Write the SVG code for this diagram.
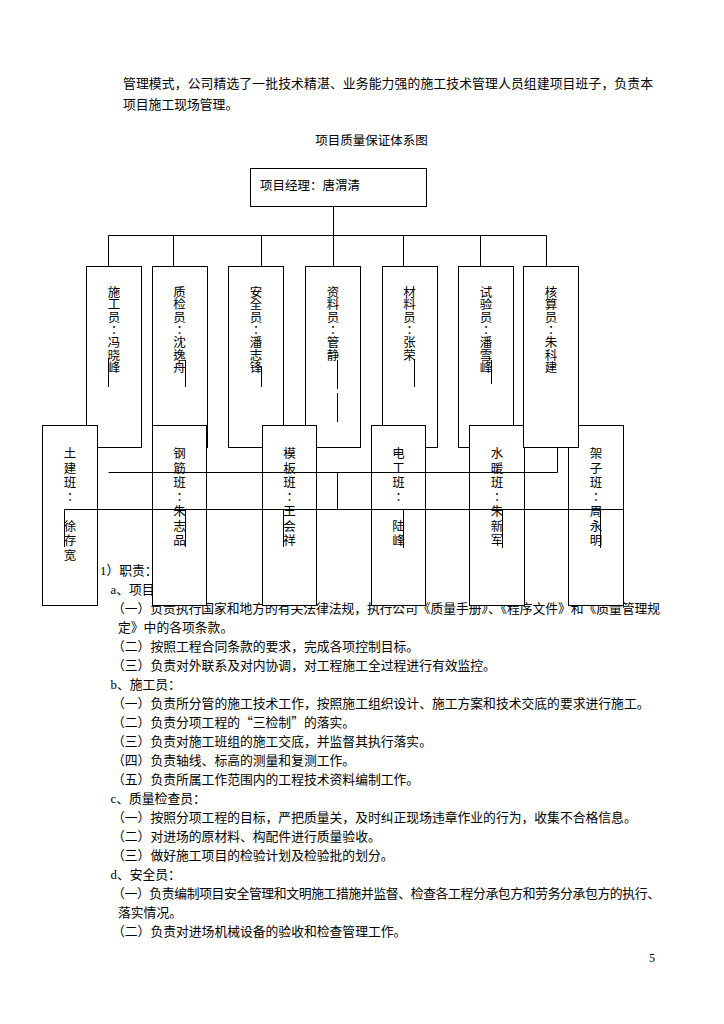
<svg xmlns="http://www.w3.org/2000/svg" width="724" height="1024" viewBox="0 0 724 1024">
<style>
.bg{fill:#fff}
.box{fill:#fff;stroke:#000;stroke-width:1}
.ln{stroke:#000;stroke-width:1;fill:none}
.t{font-family:"Noto Sans CJK SC",sans-serif;font-size:12.8px;fill:#000}
.lb{font-family:"Noto Sans CJK SC",sans-serif;font-size:12.5px;fill:#000}
.v{font-family:"Noto Sans CJK TC","Noto Sans CJK SC",sans-serif;font-size:12.5px;fill:#000;text-anchor:middle}
.s{font-family:"Liberation Serif",serif}
</style>
<rect class="bg" x="0" y="0" width="724" height="1024"/>

<g id="body-text">
<text class="t" x="123" y="88" textLength="530" lengthAdjust="spacing">管理模式，公司精选了一批技术精湛、业务能力强的施工技术管理人员组建项目班子，负责本</text>
<text class="t" x="123" y="109">项目施工现场管理。</text>
<text class="lb" x="371.5" y="144.7" text-anchor="middle">项目质量保证体系图</text>
<text class="t" x="100" y="574.9"><tspan class="s">1</tspan>）职责：</text>
<text class="t" x="110.5" y="593.9"><tspan class="s">a</tspan>、项目</text>
<text class="t" x="112" y="612.9" textLength="548" lengthAdjust="spacing">（一）负责执行国家和地方的有关法律法规，执行公司《质量手册》、《程序文件》和《质量管理规</text>
<text class="t" x="118" y="631.9">定》中的各项条款。</text>
<text class="t" x="112" y="650.9">（二）按照工程合同条款的要求，完成各项控制目标。</text>
<text class="t" x="112" y="669.9">（三）负责对外联系及对内协调，对工程施工全过程进行有效监控。</text>
<text class="t" x="110.5" y="688.9"><tspan class="s">b</tspan>、施工员：</text>
<text class="t" x="112" y="707.9">（一）负责所分管的施工技术工作，按照施工组织设计、施工方案和技术交底的要求进行施工。</text>
<text class="t" x="112" y="726.9">（二）负责分项工程的“三检制”的落实。</text>
<text class="t" x="112" y="745.9">（三）负责对施工班组的施工交底，并监督其执行落实。</text>
<text class="t" x="112" y="764.9">（四）负责轴线、标高的测量和复测工作。</text>
<text class="t" x="112" y="783.9">（五）负责所属工作范围内的工程技术资料编制工作。</text>
<text class="t" x="110.5" y="802.9"><tspan class="s">c</tspan>、质量检查员：</text>
<text class="t" x="112" y="821.9">（一）按照分项工程的目标，严把质量关，及时纠正现场违章作业的行为，收集不合格信息。</text>
<text class="t" x="112" y="840.9">（二）对进场的原材料、构配件进行质量验收。</text>
<text class="t" x="112" y="859.9">（三）做好施工项目的检验计划及检验批的划分。</text>
<text class="t" x="110.5" y="878.9"><tspan class="s">d</tspan>、安全员：</text>
<text class="t" x="112" y="897.9" textLength="548" lengthAdjust="spacing">（一）负责编制项目安全管理和文明施工措施并监督、检查各工程分承包方和劳务分承包方的执行、</text>
<text class="t" x="118" y="916.9">落实情况。</text>
<text class="t" x="112" y="935.9">（二）负责对进场机械设备的验收和检查管理工作。</text>
<text x="652" y="962" font-family="Liberation Serif" font-size="12" text-anchor="middle">5</text>
</g>

<g id="manager">
<rect class="box" x="250.5" y="168.5" width="176" height="38"/>
<text class="lb" x="260" y="189.7">项目经理：唐渭清</text>
</g>

<g id="n-shigong">
<rect class="box" x="86.5" y="266.5" width="55" height="181"/>
<text class="v" x="114 114 114 114 114 114 114" y="296.8 309.4 322 334.6 347.2 359.8 372.4">施工员：冯晓峰</text>
</g>
<g id="n-zhijian">
<rect class="box" x="152.5" y="266.5" width="55" height="181"/>
<text class="v" x="179.5 179.5 179.5 179.5 179.5 179.5 179.5" y="296.8 309.4 322 334.6 347.2 359.8 372.4">质检员：沈逸舟</text>
</g>
<g id="n-anquan">
<rect class="box" x="228.5" y="266.5" width="55" height="181"/>
<text class="v" x="256 256 256 256 256 256 256" y="296.8 309.4 322 334.6 347.2 359.8 372.4">安全员：潘志锋</text>
</g>
<g id="n-ziliao">
<rect class="box" x="305.5" y="266.5" width="55" height="181"/>
<text class="v" x="333 333 333 333 333 333" y="296.8 309.4 322 334.6 347.2 359.8">资料员：管静</text>
</g>
<g id="n-cailiao">
<rect class="box" x="382.5" y="266.5" width="55" height="181"/>
<text class="v" x="409.5 409.5 409.5 409.5 409.5 409.5" y="296.8 309.4 322 334.6 347.2 359.8">材料员：张荣</text>
</g>
<g id="n-shiyan">
<rect class="box" x="458.5" y="266.5" width="55" height="181"/>
<text class="v" x="486 486 486 486 486 486 486" y="296.8 309.4 322 334.6 347.2 359.8 372.4">试验员：潘雪峰</text>
</g>

<g id="n-tujian">
<rect class="box" x="42.5" y="425.5" width="55" height="180"/>
<text class="v" x="70 70 70 70 70 70 70" y="458 472.5 487 501.5 530.5 545 559.5">土建班：徐存宽</text>
</g>
<g id="n-gangjin">
<rect class="box" x="152.5" y="425.5" width="54" height="180"/>
<text class="v" x="179.5 179.5 179.5 179.5 179.5 179.5 179.5" y="458 472.5 487 501.5 516 530.5 545">钢筋班：朱志品</text>
</g>
<g id="n-muban">
<rect class="box" x="262.5" y="425.5" width="54" height="180"/>
<text class="v" x="289.5 289.5 289.5 289.5 289.5 289.5 289.5" y="458 472.5 487 501.5 516 530.5 545">模板班：王会祥</text>
</g>
<g id="n-diangong">
<rect class="box" x="371.5" y="425.5" width="54" height="180"/>
<text class="v" x="398.5 398.5 398.5 398.5 398.5 398.5" y="458 472.5 487 501.5 530.5 545">电工班：陆峰</text>
</g>
<g id="n-shuinuan">
<rect class="box" x="469.5" y="425.5" width="55" height="180"/>
<text class="v" x="497 497 497 497 497 497 497" y="458 472.5 487 501.5 516 530.5 545">水暖班：朱新军</text>
</g>
<g id="n-jiazi">
<rect class="box" x="568.5" y="425.5" width="55" height="180"/>
<text class="v" x="596 596 596 596 596 596 596" y="458 472.5 487 501.5 516 530.5 545">架子班：周永明</text>
</g>

<g id="n-hesuan">
<rect class="box" x="523.5" y="266.5" width="55" height="181"/>
<text class="v" x="551 551 551 551 551 551 551" y="296.8 309.4 322 334.6 347.2 359.8 372.4">核算员：朱科建</text>
</g>

<g id="connectors" class="ln">
<path d="M333.5 207V235.5M108.5 235.5H546.5"/>
<path d="M108.5 235.5V266.5M173.5 235.5V266.5M261.5 235.5V266.5M333.5 235.5V266.5M403.5 235.5V266.5M480.5 235.5V266.5M546.5 235.5V266.5"/>
<path d="M108.5 358V387M185.5 360V387M261.5 367V387M337.5 360V389M337.5 393V422M414.5 359V387M491.5 360V384"/>
<path d="M108.5 472.5H557.5M557.5 447.5V472.5M337.5 472.5V509.5M64.5 509.5H623.5"/>
<path d="M64.5 509.5V547M185.5 509.5V547M283.5 509.5V547M403.5 509.5V548M502.5 509.5V548M600.5 509.5V548"/>
</g>
</svg>
